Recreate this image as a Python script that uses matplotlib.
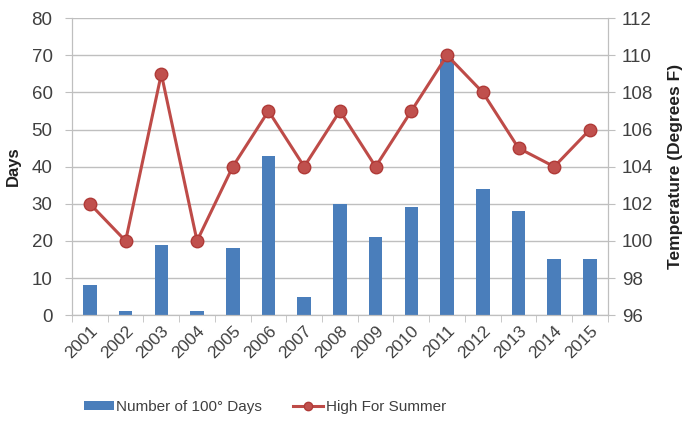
import numpy as np
import matplotlib
matplotlib.use('Agg')
import matplotlib.pyplot as plt
import matplotlib as mpl
from matplotlib.lines import Line2D

mpl.rcParams['font.family'] = ['Liberation Sans', 'DejaVu Sans']

years = ['2001', '2002', '2003', '2004', '2005', '2006', '2007', '2008',
         '2009', '2010', '2011', '2012', '2013', '2014', '2015']
days100 = [8, 1, 19, 1, 18, 43, 5, 30, 21, 29, 69, 34, 28, 15, 15]
highTemp = [102, 100, 109, 100, 104, 107, 104, 107, 104, 107, 110, 108, 105, 104, 106]

barColor = '#4a7ebb'
lineColor = '#be4b48'
gridColor = '#bfbfbf'
textColor = '#404040'

fig = plt.figure(figsize=(6.86, 4.23), dpi=100)
ax = fig.add_axes([0.105, 0.255, 0.781, 0.702])
ax2 = ax.twinx()

x = np.arange(len(years))
bars = ax.bar(x, days100, width=0.38, color=barColor, zorder=2)
ax2.plot(x, highTemp, color=lineColor, lw=2.2, marker='o', markersize=9,
         markerfacecolor='#c0504d', markeredgecolor='#b03a37', zorder=3)

ax.set_zorder(ax2.get_zorder() - 1)
ax2.patch.set_visible(False)

ax.set_xlim(-0.5, len(years) - 0.5)
ax.set_ylim(0, 80)
ax.set_yticks(np.arange(0, 81, 10))
ax2.set_ylim(96, 112)
ax2.set_yticks(np.arange(96, 113, 2))

ax.yaxis.grid(True, color=gridColor, lw=1)
ax.set_axisbelow(True)

ax.set_xticks(x)
ax.set_xticklabels(years, rotation=45, ha='right', rotation_mode='anchor',
                   fontsize=12.5, color=textColor)
ax.set_xticks(np.arange(-0.5, len(years)), minor=True)
ax.tick_params(axis='x', which='major', length=0, pad=6)
ax.tick_params(axis='x', which='minor', length=5, color=gridColor)
ax.tick_params(axis='y', length=5, pad=9, color=gridColor, labelsize=13.5,
               labelcolor=textColor)
ax2.tick_params(axis='y', length=5, pad=5, color=gridColor, labelsize=13.5,
                labelcolor=textColor)

for a in (ax, ax2):
    a.spines['top'].set_visible(False)
    for s in ('left', 'right', 'bottom'):
        a.spines[s].set_color(gridColor)

ax.set_ylabel('Days', fontsize=12, fontweight='bold', color='#202020')
ax.yaxis.set_label_coords(-0.095, 0.5)
ax2.set_ylabel('Temperature (Degrees F)', fontsize=12.5, fontweight='bold',
               color='#202020')
ax2.yaxis.set_label_coords(1.112, 0.5)

lineHandle = Line2D([], [], color=lineColor, lw=2.2, marker='o', markersize=6,
                    markerfacecolor='#c0504d', markeredgecolor='#b03a37')
fig.legend([bars, lineHandle], ['Number of 100° Days', 'High For Summer'],
           loc='center', bbox_to_anchor=(0.386, 0.038), ncol=2, frameon=False,
           fontsize=11, handlelength=2.0, handleheight=0.6, columnspacing=2.0,
           handletextpad=0.15, labelcolor=textColor)

fig.savefig('out.png', dpi=100)
